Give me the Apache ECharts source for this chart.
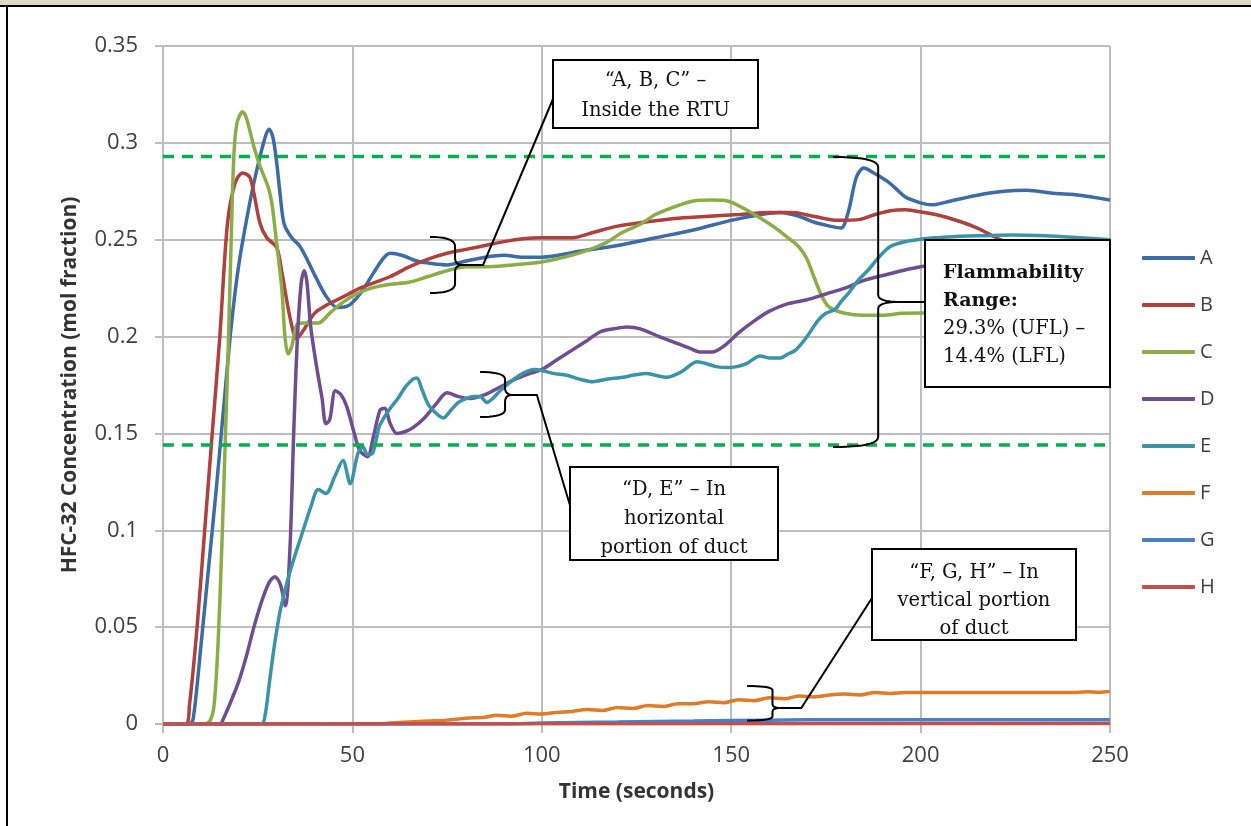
<!DOCTYPE html>
<html><head><meta charset="utf-8">
<script src="https://cdn.jsdelivr.net/npm/echarts@6.0.0/dist/echarts.min.js"></script>
<style>
html,body{margin:0;padding:0;background:#fff;}
#wrap{position:relative;width:1251px;height:826px;overflow:hidden;background:#fff;}
#band{position:absolute;left:0;top:0;width:1251px;height:5px;background:#DDD8C3;}
#topline{position:absolute;left:0;top:5px;width:1251px;height:2px;background:#000;}
#leftline{position:absolute;left:6px;top:5px;width:2px;height:821px;background:#000;}
#chart{position:absolute;left:0;top:0;width:1251px;height:826px;}
</style>
</head><body>
<div id="wrap"><div id="chart"></div><div id="band"></div><div id="topline"></div><div id="leftline"></div></div>
<script>
// ---- data (time in seconds, concentration in mol fraction) ----
const seriesNames = ['A','B','C','D','E','F','G','H'];
const xTicks = [0, 50, 100, 150, 200, 250];
const yTicks = ['0','0.05','0.1','0.15','0.2','0.25','0.3','0.35'];
const flammabilityLimits = [0.293, 0.144]; // UFL, LFL

const A = [[0,0],[7,0],[8,0.003],[10,0.04],[12,0.08],[14,0.12],[16,0.163],[18,0.205],[20,0.237],[23,0.27],[25,0.288],[27,0.303],[28,0.307],[29,0.303],[30,0.29],[31,0.272],[32,0.258],[34,0.251],[36,0.247],[38,0.24],[40,0.232],[43,0.221],[46,0.215],[49,0.216],[52,0.222],[55,0.231],[58,0.240],[60,0.243],[63,0.242],[67,0.239],[70,0.238],[75,0.237],[80,0.239],[85,0.241],[90,0.242],[95,0.241],[100,0.241],[110,0.244],[120,0.247],[130,0.251],[140,0.255],[150,0.260],[158,0.263],[163,0.264],[168,0.262],[172,0.259],[176,0.257],[179,0.256],[181,0.265],[183,0.282],[185,0.287],[188,0.284],[192,0.279],[196,0.272],[200,0.269],[203,0.268],[208,0.270],[215,0.273],[222,0.275],[228,0.2755],[235,0.274],[242,0.273],[250,0.2705]];
const B = [[0,0],[6,0],[7,0.01],[9,0.05],[11,0.1],[13,0.15],[15,0.2],[17,0.258],[19,0.279],[21,0.2845],[23,0.282],[25.6,0.2585],[27.4,0.251],[30,0.246],[31.4,0.233],[33.5,0.21],[35.3,0.199],[37,0.203],[40,0.212],[43,0.216],[46,0.219],[49,0.222],[52,0.225],[56,0.228],[60,0.231],[65,0.236],[70,0.240],[75,0.243],[80,0.245],[85,0.247],[90,0.249],[95,0.2505],[100,0.251],[108,0.251],[114,0.254],[120,0.257],[127,0.259],[135,0.261],[143,0.262],[152,0.263],[160,0.264],[166,0.264],[172,0.262],[178,0.260],[184,0.2605],[188,0.263],[192,0.265],[196,0.2655],[201,0.264],[206,0.262],[211,0.259],[215,0.256],[218,0.253],[221,0.250],[226,0.246],[232,0.242],[240,0.238],[250,0.234]];
const C = [[0,0],[11,0],[12.5,0.002],[13.5,0.01],[14.5,0.04],[15.5,0.09],[16.5,0.15],[17.3,0.2],[18,0.25],[18.7,0.293],[19.5,0.31],[21,0.316],[22,0.313],[24,0.298],[25.6,0.288],[27.8,0.277],[28.8,0.268],[29.6,0.255],[30.5,0.24],[31.4,0.224],[32.2,0.2],[33,0.191],[34,0.195],[35.3,0.206],[37,0.207],[41,0.207],[44,0.212],[47,0.217],[51,0.222],[55,0.225],[60,0.227],[65,0.228],[70,0.231],[75,0.234],[80,0.236],[85,0.236],[90,0.2365],[95,0.2375],[100,0.2385],[106,0.241],[112,0.2445],[117,0.2485],[121,0.2535],[126,0.258],[130,0.263],[135,0.267],[140,0.27],[145,0.2705],[149,0.27],[153,0.2665],[157,0.262],[161,0.257],[165,0.251],[168,0.246],[170,0.24],[172,0.23],[174,0.2205],[176,0.215],[180,0.212],[185,0.211],[190,0.211],[195,0.212],[200,0.2122],[210,0.212],[220,0.2115],[230,0.211],[240,0.211],[250,0.2105]];
const D = [[0,0],[15,0],[16,0.003],[18,0.012],[20,0.022],[22,0.035],[24,0.05],[26,0.063],[28,0.073],[29.5,0.076],[31,0.072],[32.3,0.061],[33.5,0.09],[34.5,0.15],[35.5,0.2],[36.5,0.228],[37.3,0.234],[38,0.228],[39,0.205],[40.5,0.185],[42,0.168],[43,0.155],[44,0.157],[45.5,0.172],[47,0.170],[48.5,0.164],[50.5,0.15],[52,0.141],[54,0.138],[55.5,0.148],[57.3,0.162],[58.5,0.163],[60,0.155],[61.7,0.15],[64,0.151],[66,0.153],[69,0.158],[72,0.165],[75,0.171],[78,0.169],[81,0.168],[85,0.170],[89,0.174],[93,0.178],[97,0.181],[100,0.183],[104,0.188],[108,0.193],[112,0.198],[115.5,0.2025],[119,0.204],[122.5,0.205],[126,0.204],[131,0.200],[135,0.197],[139,0.194],[142,0.192],[145,0.192],[148,0.195],[152,0.202],[156,0.208],[160,0.213],[165,0.217],[170,0.219],[175,0.222],[180,0.225],[185,0.229],[190,0.2315],[195,0.234],[200,0.236],[210,0.24],[220,0.243],[230,0.246],[240,0.248],[250,0.25]];
const E = [[0,0],[26,0],[27,0.005],[28,0.02],[29,0.035],[30,0.048],[31,0.059],[33,0.075],[35,0.088],[37,0.1],[39,0.112],[41,0.121],[43,0.119],[45.4,0.128],[47.5,0.136],[49.4,0.124],[51.5,0.14],[52.8,0.143],[54,0.139],[55.4,0.140],[57,0.153],[58,0.157],[60,0.163],[62,0.168],[64,0.174],[66,0.178],[67,0.1786],[68.5,0.172],[70,0.165],[72.3,0.160],[74,0.158],[76,0.162],[78,0.166],[80,0.168],[82,0.169],[83.7,0.169],[85.5,0.166],[87,0.168],[89,0.172],[92,0.177],[95,0.181],[98,0.183],[100,0.1825],[103,0.181],[106.6,0.180],[110,0.178],[113.5,0.1767],[117,0.178],[121.5,0.179],[124,0.180],[127.7,0.181],[130,0.180],[133,0.179],[137,0.182],[141,0.187],[143.5,0.186],[146,0.1845],[149,0.184],[151.5,0.1845],[154,0.186],[157.6,0.190],[160,0.189],[163,0.189],[165,0.191],[167,0.193],[170,0.2],[173,0.2085],[175,0.212],[177.4,0.214],[179,0.218],[181,0.2225],[183.5,0.229],[186,0.234],[189,0.241],[192,0.2465],[196,0.249],[201,0.2505],[207,0.2514],[215,0.252],[224,0.2524],[233,0.252],[242,0.251],[250,0.250]];
const F = [[0,0],[55,0],[60,0.0005],[65,0.001],[70,0.0015],[75,0.002],[80,0.003],[85,0.0035],[88,0.0045],[92,0.004],[96,0.0055],[100,0.0052],[104,0.006],[108,0.0065],[112,0.0075],[116,0.007],[120,0.0085],[124,0.008],[128,0.0095],[132,0.009],[136,0.0105],[140,0.0105],[144,0.0115],[148,0.011],[152,0.0125],[156,0.012],[160,0.0135],[164,0.013],[168,0.0145],[172,0.014],[176,0.015],[180,0.0155],[184,0.015],[188,0.0162],[192,0.0158],[196,0.0163],[200,0.0163],[210,0.0163],[220,0.0163],[230,0.0163],[240,0.0163],[244,0.0166],[247,0.0164],[250,0.0168]];
const G = [[0,0],[90,0],[100,0.0005],[120,0.001],[140,0.0015],[160,0.002],[180,0.0022],[200,0.0022],[250,0.0022]];
const H = [[0,0],[250,0.0002]];
const seriesData = [A,B,C,D,E,F,G,H];

// ---- styling ----
const colors = ['#3C6BA6','#AE403D','#8BAC46','#6E4D92','#3A93A9','#E07B29','#4A7EC6','#C4504D'];
const gridColor = '#BDBDBD';
const labelColor = '#404040';
const sansFont = '"Open Sans", "Noto Sans", sans-serif';
const serifFont = '"DejaVu Serif", serif';

const chart = echarts.init(document.getElementById('chart'), null, {renderer:'canvas'});

const series = [];
// flammability limit lines (UFL, LFL), drawn through the axes
flammabilityLimits.forEach((v, k) => {
  series.push({
    name: k === 0 ? 'UFL' : 'LFL', type:'line',
    data: [[xTicks[0], v], [xTicks[xTicks.length-1], v]],
    showSymbol:false, symbol:'none', silent:true,
    lineStyle:{color:'#00B050', width:3.5, type:[11, 8]},
    z: 20
  });
});
seriesNames.forEach((n,i) => series.push({
  name: n, type: 'line', data: seriesData[i],
  showSymbol: false, symbol: 'none', smooth: 0.3,
  lineStyle: {color: colors[i], width: 3.5},
  itemStyle: {color: colors[i]},
  z: 2 + i
}));

chart.setOption({
  animation: false,
  backgroundColor: '#fff',
  grid: {left:163, top:46, right:141, bottom:102, containLabel:false},
  xAxis: {
    type:'value', min:xTicks[0], max:xTicks[xTicks.length-1], interval:50,
    name:'Time (seconds)', nameLocation:'middle', nameGap:58,
    nameTextStyle:{fontFamily:sansFont, fontWeight:'bold', fontSize:21, color:'#333'},
    axisLine:{show:true, onZero:false, lineStyle:{color:gridColor, width:2}},
    axisTick:{show:true, length:9, lineStyle:{color:gridColor, width:2}},
    axisLabel:{fontFamily:sansFont, fontSize:22, color:labelColor, margin:21},
    splitLine:{show:true, lineStyle:{color:gridColor, width:2}}
  },
  yAxis: {
    type:'value', min:0, max:0.35, interval:0.05,
    name:'HFC-32 Concentration (mol fraction)', nameLocation:'middle', nameGap:82, nameRotate:90,
    nameTextStyle:{fontFamily:sansFont, fontWeight:'bold', fontSize:21, color:'#333'},
    axisLine:{show:true, lineStyle:{color:gridColor, width:2}},
    axisTick:{show:true, length:8, lineStyle:{color:gridColor, width:2}},
    axisLabel:{fontFamily:sansFont, fontSize:22, color:labelColor, margin:25,
      formatter: (v) => yTicks[Math.round(v/0.05)]},
    splitLine:{show:true, lineStyle:{color:gridColor, width:2}}
  },
  legend: {
    data: seriesNames, orient:'vertical', left:1137, top:241,
    icon:'roundRect', itemWidth:53, itemHeight:4, itemGap:23,
    textStyle:{fontFamily:sansFont, fontSize:20, color:labelColor, lineHeight:24}
  },
  series: series
});

// ---- annotations ----
const P = (t,v) => chart.convertToPixel({gridIndex:0}, [t,v]);
// braces in data coordinates: left end, vertical stem, tip, top, bottom, middle
const braces = [
  {tL:70.5, tV:77.1, tT:79.2, vTop:0.2514, vBot:0.2225, vMid:0.237},
  {tL:83.7, tV:90.3, tT:92.4, vTop:0.1817, vBot:0.1585, vMid:0.1699},
  {tL:176.9, tV:188.8, tT:194.6, vTop:0.2927, vBot:0.143, vMid:0.2179},
  {tL:154.2, tV:160.9, tT:162.8, vTop:0.0196, vBot:0.0018, vMid:0.0083}
];
// connector: elbow (data) then box attach point (pixel)
const connectors = [
  {elbow:[84.5,0.237], end:[553,99]},
  {elbow:[98.7,0.1699], end:[572,512]},
  {elbow:null, end:[925,302]},
  {elbow:[168.5,0.0083], end:[872,598]}
];
const boxes = [
  {x:553, y:60, w:205, h:68, cy:96, lh:30, align:'center', text:'\u201CA, B, C\u201D \u2013\nInside the RTU'},
  {x:570, y:467, w:208, h:93, cy:519, lh:29, align:'center', text:'\u201CD, E\u201D \u2013 In\nhorizontal\nportion of duct'},
  {x:925, y:240, w:185, h:147, cy:315, lh:28, align:'left', tx:943, text:'{b|Flammability}\n{b|Range:}\n29.3% (UFL) \u2013\n14.4% (LFL)'},
  {x:872, y:549, w:204, h:91, cy:601, lh:28, align:'center', text:'\u201CF, G, H\u201D \u2013 In\nvertical portion\nof duct'}
];

function quad(p0, c, p1, n, out) {
  for (let k = 1; k <= n; k++) {
    const s = k / n, a = (1-s)*(1-s), b = 2*(1-s)*s, d = s*s;
    out.push([a*p0[0]+b*c[0]+d*p1[0], a*p0[1]+b*c[1]+d*p1[1]]);
  }
}
function bracePoints(b) {
  const [x0, yT] = P(b.tL, b.vTop);
  const [xV, yB] = P(b.tV, b.vBot);
  const [xT, yM] = P(b.tT, b.vMid);
  const r = Math.min(10, (yM-yT)/3, (yB-yM)/3);
  const r2 = Math.min(7, (yM-yT)/3, (yB-yM)/3);
  const pts = [[x0, yT]];
  quad([x0,yT], [xV,yT], [xV,yT+r], 10, pts);
  pts.push([xV, yM-r2]);
  quad([xV,yM-r2], [xV,yM], [xT,yM], 8, pts);
  quad([xT,yM], [xV,yM], [xV,yM+r2], 8, pts);
  pts.push([xV, yB-r]);
  quad([xV,yB-r], [xV,yB], [x0,yB], 10, pts);
  return {pts, tip:[xT,yM]};
}

const graphics = [];
braces.forEach((b,i) => {
  const br = bracePoints(b);
  graphics.push({type:'polyline', z:100, shape:{points:br.pts}, style:{stroke:'#000', lineWidth:2, fill:null}});
  const c = connectors[i];
  const pts = [br.tip];
  if (c.elbow) pts.push(P(c.elbow[0], c.elbow[1]));
  pts.push(c.end);
  graphics.push({type:'polyline', z:100, shape:{points:pts}, style:{stroke:'#000', lineWidth:2, fill:null}});
});
boxes.forEach(b => {
  graphics.push({type:'rect', z:110, shape:{x:b.x, y:b.y, width:b.w, height:b.h},
    style:{fill:'#fff', stroke:'#000', lineWidth:2}});
  graphics.push({type:'text', z:111,
    x: b.align === 'center' ? b.x + b.w/2 : b.tx, y: b.cy,
    style:{text:b.text, fill:'#111', fontFamily:serifFont, fontSize:19.5,
      align:b.align, verticalAlign:'middle', lineHeight:b.lh,
      rich:{b:{fontFamily:serifFont, fontSize:19, fontWeight:'bold', lineHeight:b.lh, fill:'#111'}}}});
});
chart.setOption({graphic: graphics});
</script>
</body></html>
